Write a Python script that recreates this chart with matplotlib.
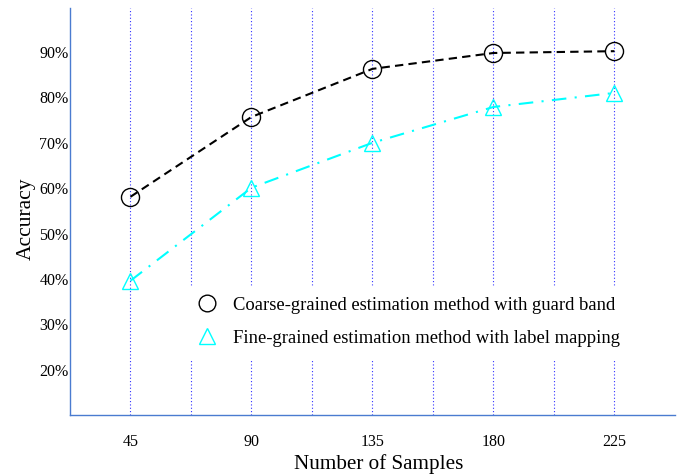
import numpy as np
import matplotlib.pyplot as plt

plt.rcParams['font.family'] = ['Liberation Serif', 'DejaVu Serif']

samples = [45, 90, 135, 180, 225]
coarse = [58.1, 75.7, 86.3, 89.8, 90.2]
fine = [39.6, 60.1, 70.0, 77.9, 81.0]
minor_x = [67.5, 112.5, 157.5, 202.5]
yticks = [20, 30, 40, 50, 60, 70, 80, 90]

fig = plt.figure(figsize=(6.88, 4.75), dpi=100)
ax = fig.add_axes([0.1017, 0.1263, 0.8793, 0.8567])

for x in samples + minor_x:
    ax.axvline(x, color='#3030ff', linestyle=(0, (1, 2)), linewidth=0.8, zorder=0)

ax.plot(samples, coarse, color='black', linestyle=(0, (4, 2.5)), linewidth=1.5, zorder=2)
ax.plot(samples, fine, color='cyan', linestyle=(0, (7, 4, 1, 4)), linewidth=1.5, zorder=2)
ax.plot(samples, coarse, 'o', markersize=13, markerfacecolor='none',
        markeredgecolor='black', markeredgewidth=1.0, linestyle='none', zorder=3)
ax.plot(samples, fine, '^', markersize=12, markerfacecolor='none',
        markeredgecolor='cyan', markeredgewidth=1.0, linestyle='none', zorder=3)

# legend handles (slightly smaller markers, as in the reference)
h1, = ax.plot([], [], 'o', markersize=12, markerfacecolor='none',
              markeredgecolor='black', markeredgewidth=1.0, linestyle='none')
h2, = ax.plot([], [], '^', markersize=11, markerfacecolor='none',
              markeredgecolor='cyan', markeredgewidth=1.0, linestyle='none')

ax.set_xlim(22.5, 247.5)
ax.set_ylim(10, 99.7)
ax.set_xticks(samples)
ax.set_yticks(yticks)
ax.set_yticklabels([f'{v}%' for v in yticks])
ax.tick_params(axis='both', length=0, labelsize=11.5)
ax.tick_params(axis='x', pad=14)
ax.tick_params(axis='y', pad=1)

for s in ['top', 'right']:
    ax.spines[s].set_visible(False)
for s in ['left', 'bottom']:
    ax.spines[s].set_color('#4a7bd0')
    ax.spines[s].set_linewidth(1.0)

ax.set_xlabel('Number of Samples', fontsize=15.2)
ax.set_ylabel('Accuracy', fontsize=15.5)
ax.xaxis.set_label_coords(0.511, -0.097)
ax.yaxis.set_label_coords(-0.056, 0.482)

leg = ax.legend([h1, h2],
                ['Coarse-grained estimation method with guard band',
                 'Fine-grained estimation method with label mapping'],
                loc='center left', bbox_to_anchor=(0.19, 0.229), borderaxespad=0,
                fontsize=13.4, frameon=True, framealpha=1, edgecolor='white',
                fancybox=False, handlelength=1.2, handletextpad=0.8,
                labelspacing=0.85, borderpad=0.6)
leg.set_zorder(5)

fig.savefig('out.png', dpi=100)
